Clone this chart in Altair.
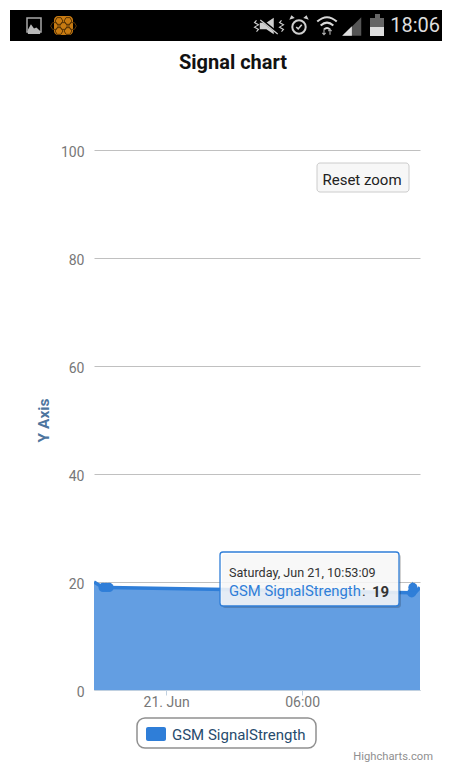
import altair as alt
import pandas as pd

# ---- data ----
times = ["2014-06-20T20:49:00Z", "2014-06-20T21:13:00Z", "2014-06-20T21:21:00Z", "2014-06-20T21:29:00Z",
         "2014-06-21T10:50:00Z", "2014-06-21T10:53:09Z", "2014-06-21T10:59:00Z", "2014-06-21T11:12:00Z"]
signal = [20, 19, 19, 19, 18, 19, 18, 19]
marker_times = ["2014-06-20T21:13:00Z", "2014-06-20T21:21:00Z", "2014-06-20T21:29:00Z",
                "2014-06-21T10:50:00Z", "2014-06-21T10:53:09Z"]
marker_signal = [19, 19, 19, 18, 19]
y_ticks = [0, 20, 40, 60, 80, 100]
x_ticks = ["2014-06-21T00:00:00Z", "2014-06-21T06:00:00Z"]
x_domain = ["2014-06-20T20:49:00Z", "2014-06-21T11:12:00Z"]
series_name = "GSM SignalStrength"
BLUE = "#2f7ed8"
FONT = "Roboto"

df = pd.DataFrame({"time": times, "signal": signal, "series": series_name})
markers = pd.DataFrame({"time": marker_times, "signal": marker_signal})
one = pd.DataFrame({"a": [0]})

X = lambda px: alt.value(px - 94)
Y = lambda py: alt.value(py - 150)

def box(x0, y0, x1, y1, **kw):
    return alt.Chart(one).mark_rect(**kw).encode(x=X(x0), x2=X(x1), y=Y(y0), y2=Y(y1))

def label(s, x, y, **kw):
    kw.setdefault("font", FONT)
    kw.setdefault("baseline", "middle")
    return alt.Chart(one).mark_text(**kw).encode(x=X(x), y=Y(y), text=alt.value(s))

def glyph(path, x, y, size, **kw):
    return alt.Chart(one).mark_point(shape=path, size=size, **kw).encode(x=X(x), y=Y(y))

x_enc = alt.X("time:T", title=None,
              scale=alt.Scale(type="utc", domain=x_domain),
              axis=alt.Axis(values=x_ticks, grid=False, domainColor="#C0D0E0", tickColor="#C0D0E0", tickSize=5,
                            labelColor="#777777", labelFont=FONT, labelFontSize=14, labelPadding=0,
                            labelExpr="utchours(datum.value) == 0 ? '21. Jun' : '06:00'"))
y_enc = alt.Y("signal:Q",
              scale=alt.Scale(domain=[0, 100], nice=False),
              axis=alt.Axis(values=y_ticks, title="Y Axis", titleColor="#4d759e", titleFont=FONT, titleFontSize=15.5,
                            titleFontWeight="bold", titleX=-43, titleY=270, titleAngle=270,
                            grid=True, gridColor="#C0C0C0", gridWidth=1, domain=False, ticks=False,
                            labelColor="#777777", labelFont=FONT, labelFontSize=14, labelPadding=10, labelOffset=2.5))

base = alt.Chart(df)
area = base.mark_area(color=BLUE, opacity=0.75, clip=True).encode(x=x_enc, y=y_enc)
line = base.mark_line(color=BLUE, strokeWidth=3.5, clip=True).encode(x="time:T", y="signal:Q")
points = alt.Chart(markers).mark_point(filled=True, color=BLUE, size=85, opacity=1, clip=True).encode(x="time:T", y="signal:Q")

layers = [area, line, points]

# status bar
layers.append(box(10, 10, 442, 41, color="#000000"))
layers.append(box(27, 18, 41, 32, fill="#000000", stroke="#a8a8a8", strokeWidth=1.5))
layers.append(glyph("M-1 1 L-1 0.3 L-0.5 -0.6 L0 0.1 L0.4 -0.1 L1 0.5 L1 1 Z", 34, 28, 150, filled=True, color="#b8b8b8", opacity=1))
layers.append(box(54, 16, 73, 35, color="#c87b12", cornerRadius=4))
for hx, hy in [(59, 21), (68, 21), (63.5, 26), (59, 31), (68, 31), (54.5, 26), (72.5, 26)]:
    layers.append(glyph("M-1 0 L-0.5 -0.87 L0.5 -0.87 L1 0 L0.5 0.87 L-0.5 0.87 Z", hx, hy, 60, filled=False,
                        color="#5a3505", strokeWidth=1, opacity=1))
# muted speaker
layers.append(glyph("M-1 -0.4 L-0.2 -0.4 L0.7 -1 L0.7 1 L-0.2 0.4 L-1 0.4 Z", 268, 26, 270, filled=True, color="#cfcfcf", opacity=1))
layers.append(glyph("M-1 -0.8 L1 0.8", 269, 26, 300, filled=False, color="#000000", strokeWidth=2.6, opacity=1))
layers.append(glyph("M-1 -0.8 L1 0.8", 269, 27, 300, filled=False, color="#cfcfcf", strokeWidth=1.2, opacity=1))
for wx in (256.5, 281.5):
    layers.append(glyph("M0 -1 L-0.35 -0.6 L0.35 -0.2 L-0.35 0.2 L0.35 0.6 L0 1", wx, 26, 130, filled=False, color="#cfcfcf", strokeWidth=1.1, opacity=1))
# alarm clock
layers.append(alt.Chart(one).mark_point(filled=False, color="#cfcfcf", size=180, strokeWidth=2, opacity=1).encode(x=X(299), y=Y(27)))
layers.append(glyph("M-1 0 L-0.3 0.7 L1 -0.8", 299, 27, 30, filled=False, color="#cfcfcf", strokeWidth=1.6, opacity=1))
layers.append(glyph("M-1 0.6 L-0.2 -1 L1 0 Z", 292, 18, 30, filled=True, color="#cfcfcf", opacity=1))
layers.append(glyph("M1 0.6 L0.2 -1 L-1 0 Z", 306, 18, 30, filled=True, color="#cfcfcf", opacity=1))
# wifi
layers.append(glyph("M-1 -0.45 Q0 -1.35 1 -0.45 M-0.65 -0.05 Q0 -0.65 0.65 -0.05 M-0.3 0.35 Q0 0.05 0.3 0.35", 327, 26, 380,
                    filled=False, color="#d8d8d8", strokeWidth=2, opacity=1))
layers.append(glyph("M0 -1 L0 1 M-0.6 0.3 L0 1 L0.6 0.3", 324, 32, 30, filled=False, color="#b0b0b0", strokeWidth=1.1, opacity=1))
layers.append(glyph("M0 1 L0 -1 M-0.6 -0.3 L0 -1 L0.6 -0.3", 330, 32, 30, filled=False, color="#b0b0b0", strokeWidth=1.1, opacity=1))
# signal
layers.append(glyph("M-1 1 L1 -1 L1 1 Z", 352, 26.5, 340, filled=True, color="#555555", opacity=1))
layers.append(glyph("M-1 1 L1 -1 L1 1 Z", 347, 31, 95, filled=True, color="#e0e0e0", opacity=1))
# battery
layers.append(box(375, 14, 380, 18, color="#666666"))
layers.append(box(370, 18, 384, 27, color="#666666"))
layers.append(box(370, 27, 384, 36, color="#dedede"))
layers.append(label("18:06", 440, 26, align="right", fontSize=20, color="#dddddd"))

# title
layers.append(label("Signal chart", 233, 63, align="center", fontSize=20, fontWeight="bold", color="#111111"))

# reset zoom button
layers.append(box(317, 163, 409, 192, fill="#f7f7f7", stroke="#cccccc", strokeWidth=1, cornerRadius=3))
layers.append(label("Reset zoom", 362, 180, align="center", fontSize=15, color="#222222"))

# tooltip
layers.append(box(222, 554, 401, 608, color="#000000", opacity=0.18, cornerRadius=3))
layers.append(box(220, 552, 399, 606, fill="#ffffff", fillOpacity=0.85, stroke=BLUE, strokeWidth=1.3, cornerRadius=3))
layers.append(label("Saturday, Jun 21, 10:53:09", 229, 573, align="left", fontSize=12.6, color="#333333"))
layers.append(label(series_name, 229, 592, align="left", fontSize=14.8, color=BLUE))
layers.append(label(":", 362, 592, align="left", fontSize=14.8, color="#333333"))
layers.append(label("19", 372, 592, align="left", fontSize=15, fontWeight="bold", color="#333333"))

# legend
layers.append(box(137, 718, 316, 748, fill="#ffffff", stroke="#909090", strokeWidth=1.5, cornerRadius=8))
layers.append(box(146, 727, 166, 741, color=BLUE, cornerRadius=2))
layers.append(label(series_name, 172, 735, align="left", fontSize=15, color="#274b6d"))
layers.append(label("Highcharts.com", 433, 756.5, align="right", fontSize=11.2, color="#909090"))

chart = alt.layer(*layers).properties(
    width=326, height=540,
    padding={"left": 86, "top": 142, "right": 22, "bottom": 72},
    autosize=alt.AutoSizeParams(type="none"),
    background="#ffffff",
).configure_view(stroke=None)

chart.save("out.html", embed_options={"renderer": "svg", "actions": False})
